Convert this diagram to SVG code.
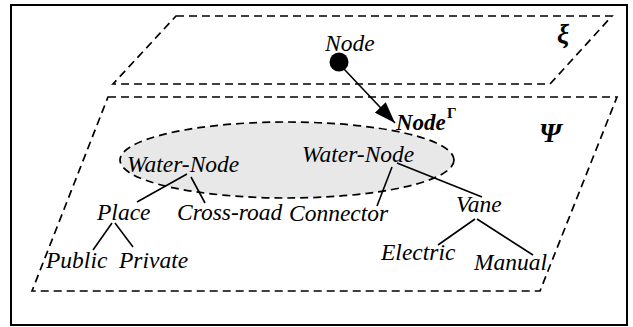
<svg xmlns="http://www.w3.org/2000/svg" width="633" height="327" viewBox="0 0 633 327">
<defs>
<style>
.frame{fill:none;stroke:#000;stroke-width:2}
.plane{fill:none;stroke:#000;stroke-width:1.7;stroke-dasharray:8 5}
.region{fill:#e8e8e8;stroke:#000;stroke-width:1.7;stroke-dasharray:8 5}
.edge{fill:none;stroke:#000;stroke-width:1.6}
text{font-family:'Liberation Serif','Times New Roman','DejaVu Serif',serif;fill:#000}
.t{font-style:italic;font-size:23.5px}
.b{font-style:italic;font-weight:bold}
</style>
<marker id="big" viewBox="0 0 20 14" refX="20" refY="7" markerWidth="22" markerHeight="15" markerUnits="userSpaceOnUse" orient="auto">
<path d="M0,0 L20,7 L0,14 z" fill="#000"/>
</marker>
</defs>
<rect x="11" y="5" width="616" height="320" class="frame"/>
<g id="plane-xi">
<polygon points="176,16 612,16 550,84 113,84" class="plane"/>
<text x="557" y="43" class="b" font-size="27">ξ</text>
</g>
<g id="plane-psi">
<polygon points="108,97 617,97 540,291 32,291" class="plane"/>
<text x="539" y="142" class="b" font-size="28">Ψ</text>
</g>
<g id="region">
<ellipse cx="287" cy="160" rx="167" ry="38" class="region"/>
</g>
<g id="node-top">
<circle cx="339" cy="62" r="9.5" fill="#000"/>
<text x="325" y="51" class="t" font-size="21">Node</text>
</g>
<g id="node-gamma">
<text x="396" y="130" class="b" font-size="23">Node</text>
<text x="447" y="118" font-weight="bold" font-size="15">Γ</text>
</g>
<g id="water-node-1"><text x="127" y="172" class="t">Water-Node</text></g>
<g id="water-node-2"><text x="302" y="162" class="t">Water-Node</text></g>
<g id="place"><text x="97" y="220" class="t">Place</text></g>
<g id="cross-road"><text x="177" y="220" class="t">Cross-road</text></g>
<g id="connector"><text x="289" y="221" class="t">Connector</text></g>
<g id="vane"><text x="456" y="212" class="t">Vane</text></g>
<g id="public"><text x="46" y="268" class="t">Public</text></g>
<g id="private"><text x="119" y="268" class="t">Private</text></g>
<g id="electric"><text x="381" y="260" class="t">Electric</text></g>
<g id="manual"><text x="474" y="270" class="t">Manual</text></g>
<g id="connectors">
<line x1="344" y1="69" x2="395" y2="123" class="edge" marker-end="url(#big)"/>
<line x1="187" y1="174" x2="137" y2="202" class="edge"/>
<line x1="191" y1="177" x2="205" y2="203" class="edge"/>
<line x1="112" y1="223" x2="93" y2="250" class="edge"/>
<line x1="115" y1="223" x2="133" y2="247" class="edge"/>
<line x1="392" y1="167" x2="377" y2="206" class="edge"/>
<line x1="397" y1="163" x2="482" y2="197" class="edge"/>
<line x1="475" y1="219" x2="438" y2="245" class="edge"/>
<line x1="477" y1="219" x2="533" y2="255" class="edge"/>
</g>
</svg>
